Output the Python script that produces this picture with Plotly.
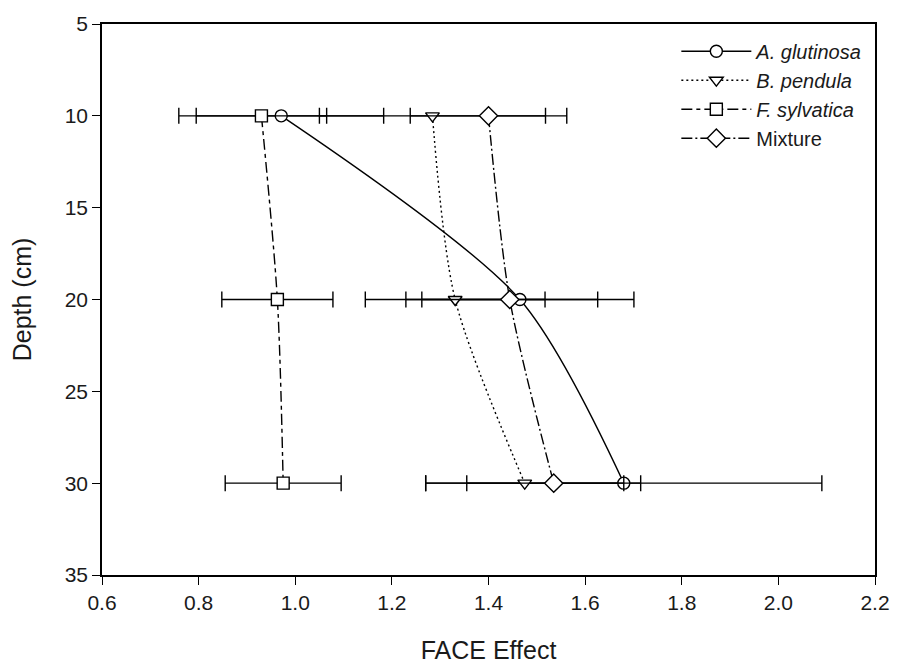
import plotly.graph_objects as go

depth = [10, 20, 30]

glut_x = [0.971, 1.465, 1.68]
glut_err = [0.212, 0.236, 0.41]

pend_x = [1.284, 1.331, 1.475]
pend_err = [0.234, 0.186, 0.205]

sylv_x = [0.930, 0.963, 0.975]
sylv_err = [0.135, 0.115, 0.12]

mix_x = [1.400, 1.444, 1.535]
mix_err = [0.162, 0.182, 0.18]

names = ["<i>A. glutinosa</i>", "<i>B. pendula</i>", "<i>F. sylvatica</i>", "Mixture"]
symbols = ["circle", "triangle-down", "square", "diamond"]
sizes = [12, 12, 12, 14]
dashes = ["solid", "2px,3px", "11px,4px,4px,4px", "11px,3px,2px,3px"]

fig = go.Figure()
series = [(glut_x, glut_err), (pend_x, pend_err), (sylv_x, sylv_err), (mix_x, mix_err)]
for (xs, es), name, sym, sz, dash in zip(series, names, symbols, sizes, dashes):
    fig.add_trace(go.Scatter(
        x=xs, y=depth, name=name, mode="lines+markers",
        line=dict(color="black", width=1.4, dash=dash, shape="spline", smoothing=0.8),
        marker=dict(symbol=sym, size=sz, color="white", line=dict(color="black", width=1.4)),
        error_x=dict(type="data", array=es, visible=True, color="black", thickness=1.4, width=8),
    ))

fam = "Liberation Sans, Arial, sans-serif"
tick_font = dict(family=fam, size=21, color="#1a1a1a")
fig.update_layout(
    width=902, height=672,
    margin=dict(l=102, r=18, t=16, b=94),
    plot_bgcolor="white", paper_bgcolor="white",
    font=dict(family=fam, size=21, color="#1a1a1a"),
    showlegend=True,
    legend=dict(x=0.743, y=0.986, xanchor="left", yanchor="top", bgcolor="rgba(0,0,0,0)",
                font=dict(size=20), tracegroupgap=0, itemwidth=70),
    xaxis=dict(range=[0.6, 2.2], tickvals=[0.6, 0.8, 1.0, 1.2, 1.4, 1.6, 1.8, 2.0, 2.2],
               ticktext=["0.6", "0.8", "1.0", "1.2", "1.4", "1.6", "1.8", "2.0", "2.2"],
               ticks="outside", ticklen=8, tickwidth=1.4, tickcolor="black",
               showline=True, linecolor="black", linewidth=1.6, mirror=True,
               showgrid=False, zeroline=False, tickfont=tick_font,
               title=dict(text="FACE Effect", font=dict(size=25), standoff=28)),
    yaxis=dict(range=[35, 5], tickvals=[5, 10, 15, 20, 25, 30, 35],
               ticks="outside", ticklen=8, tickwidth=1.4, tickcolor="black",
               showline=True, linecolor="black", linewidth=1.6, mirror=True,
               showgrid=False, zeroline=False, tickfont=tick_font,
               title=dict(text="Depth (cm)", font=dict(size=25), standoff=26)),
)

fig.write_html("out.html")
